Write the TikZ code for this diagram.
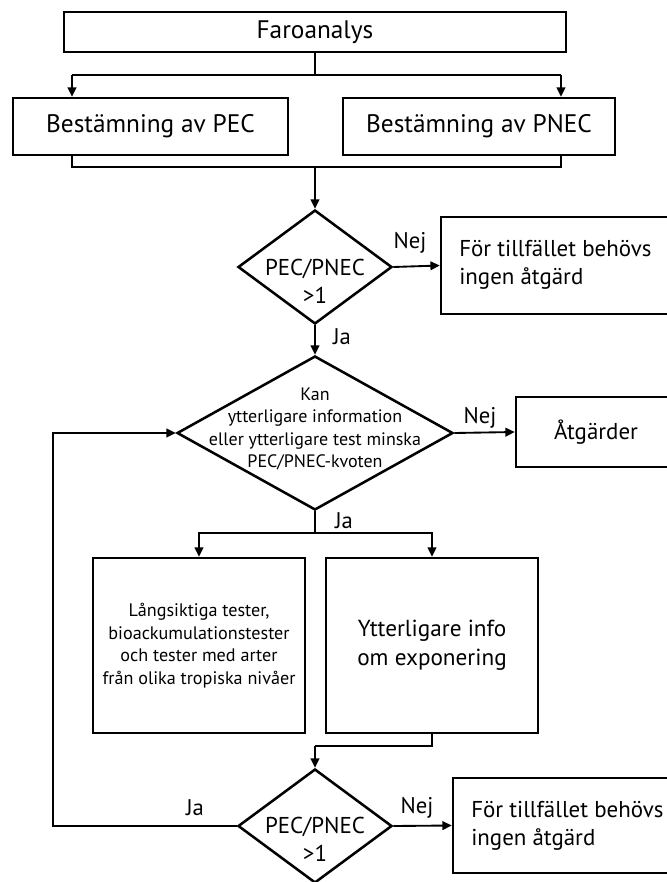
\documentclass[tikz,border=0pt]{standalone}
\usepackage{fontspec}
\setmainfont{PT Sans}
\usetikzlibrary{shapes.geometric,arrows.meta}
\newcommand\pxu{0.75pt}
\begin{document}
\begin{tikzpicture}[x=0.75pt,y=-0.75pt,
  box/.style={draw, line width=1.9pt, rectangle, inner sep=0pt},
  decision/.style={draw, diamond, line width=1.9pt, inner sep=0pt},
  conn/.style={line width=1.4pt},
  arr/.style={conn, -{Triangle[length=7pt,width=6.5pt]}},
  big/.style={font=\fontsize{19}{23}\selectfont},
  mid/.style={font=\fontsize{17.2}{21}\selectfont},
  small/.style={font=\fontsize{13.5}{16.8}\selectfont},
  lbl/.style={font=\fontsize{17}{20}\selectfont, inner sep=0pt}]
\useasboundingbox (0,0) rectangle (667,882);
\clip (0,0) rectangle (667,882);

% boxes
\node[box, big, minimum width=502*\pxu, minimum height=40*\pxu] (faro) at (315,32) {Faroanalys};
\node[box, big, minimum width=275*\pxu, minimum height=57*\pxu] (pec) at (150.5,126.5) {Bestämning av PEC};
\node[box, big, minimum width=272*\pxu, minimum height=57*\pxu] (pnec) at (479,126.5) {Bestämning av PNEC};

\node[decision, minimum width=154*\pxu, minimum height=114*\pxu] (d1) at (315,267) {};
\node[mid, align=center, inner sep=0pt] (d1t) at (315,281) {PEC/PNEC\\>1};

\node[box, minimum width=244*\pxu, minimum height=97*\pxu] (r1) at (563,265.5) {};
\node[mid, align=left, anchor=west, inner sep=0pt] (r1t) at (459,265) {För tillfället behövs\\ingen åtgärd};

\node[decision, minimum width=276*\pxu, minimum height=154*\pxu] (d2) at (315,433) {};
\node[small, align=center, inner sep=0pt] (d2t) at (315,429) {Kan\\ytterligare information\\eller ytterligare test minska\\PEC/PNEC-kvoten};

\node[box, mid, minimum width=160*\pxu, minimum height=70*\pxu] (atg) at (596,432) {Åtgärder};

\node[box, small, align=center, minimum width=212*\pxu, minimum height=175*\pxu, font=\fontsize{13.6}{17}\selectfont] (lbox) at (199,645.5) {Långsiktiga tester,\\bioackumulationstester\\och tester med arter\\från olika tropiska nivåer};
\node[box, align=center, minimum width=212*\pxu, minimum height=175*\pxu, font=\fontsize{17.4}{21.75}\selectfont] (rbox) at (432,645.5) {Ytterligare info\\om exponering};

\node[decision, minimum width=154*\pxu, minimum height=114*\pxu] (d3) at (315,826) {};
\node[mid, align=center, inner sep=0pt] (d3t) at (315,839) {PEC/PNEC\\>1};

\node[box, minimum width=232*\pxu, minimum height=95*\pxu] (r3) at (569,825.5) {};
\node[mid, align=left, anchor=west, inner sep=0pt] (r3t) at (471,826) {För tillfället behövs\\ingen åtgärd};

% connectors
\coordinate (colA) at (72,75);
\coordinate (colB) at (561,75);
\draw[conn] (faro.south) -- (faro.south |- colA);
\draw[conn] (colA) -- (colB);
\draw[arr] (colA) -- (pec.north -| colA);
\draw[arr] (colB) -- (pnec.north -| colB);

\coordinate (j2) at (315,167);
\draw[conn] (pec.south -| colA) |- (j2) -| (pnec.south -| colB);
\draw[arr] (j2) -- (d1.north);

\draw[arr] (d1.east) -- (r1.west);
\node[lbl] (nej1) at (410,243) {Nej};
\draw[arr] (d1.south) -- (d2.north);
\node[lbl] (ja1) at (342,337) {Ja};

\draw[arr] (d2.east) -- (atg.west);
\node[lbl] (nej2) at (480,418) {Nej};

\coordinate (j3) at (315,533);
\draw[conn] (d2.south) -- (j3);
\draw[arr] (j3) -| (lbox.north);
\draw[arr] (j3) -| (rbox.north);
\node[lbl] (ja2) at (344,521) {Ja};

\coordinate (j4) at (315,746);
\draw[conn] (rbox.south) |- (j4);
\draw[arr] (j4) -- (d3.north);

\draw[arr] (d3.east) -- (r3.west);
\node[lbl] (nej3) at (417,808) {Nej};

\draw[arr] (d3.west) -- ++(-184,0) |- (d2.west);
\node[lbl] (ja3) at (195,808) {Ja};
\end{tikzpicture}
\end{document}
